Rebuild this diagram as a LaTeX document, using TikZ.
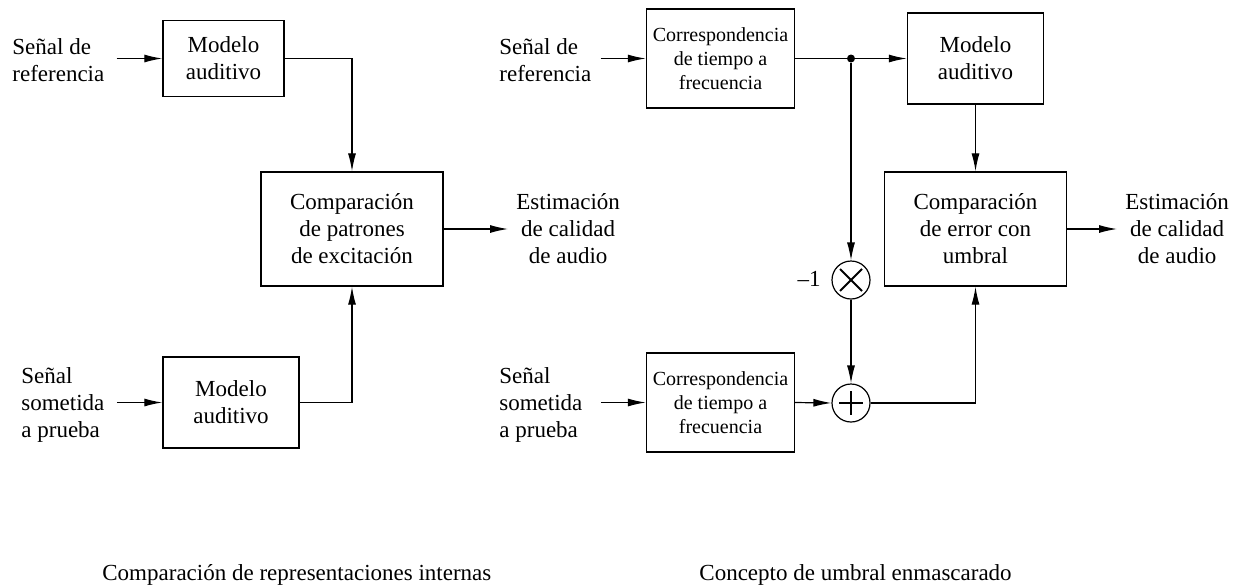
\documentclass[tikz,border=0pt]{standalone}
\usepackage{fontspec}
\setmainfont{Liberation Serif}
\usetikzlibrary{arrows.meta}
\begin{document}
\begin{tikzpicture}[x=0.5pt,y=-0.5pt,
  every node/.style={font=\fontsize{11.5}{13.5}\selectfont},
  blk/.style={draw, line width=0.7pt, inner sep=0pt, align=center},
  lbl/.style={inner sep=0pt, align=left, anchor=west},
  outl/.style={inner sep=0pt, align=center, anchor=west},
  arr/.style={line width=0.6pt, -{Latex[length=9pt,width=4pt]}},
  ln/.style={line width=0.6pt},
  small/.style={font=\fontsize{10}{12}\selectfont},
  sumc/.style={draw, circle, minimum size=19pt, inner sep=0pt, line width=0.6pt},
  sym/.style={line width=0.9pt}]
\useasboundingbox (0,0) rectangle (1236,585);

% ---- left diagram ----
\node[blk, minimum width=60.5pt, minimum height=38pt] (m1) at (223.5,58.5) {Modelo\\auditivo};
\node[blk, minimum width=91pt, minimum height=57pt] (c1) at (352,229) {Comparación\\de patrones\\de excitación};
\node[blk, minimum width=68pt, minimum height=45.5pt] (m2) at (231,402.5) {Modelo\\auditivo};
\node[lbl] (i1) at (12,60) {Señal de\\referencia};
\node[lbl] (i2) at (21,405) {Señal\\sometida\\a prueba};
\node[outl] (o1) at (516,229) {Estimación\\de calidad\\de audio};

\draw[arr, shorten <=6pt] (i1.east |- m1.west) -- (m1.west);
\draw[arr, shorten <=6pt] (i2.east |- m2.west) -- (m2.west);
\draw[arr] (m1.east) -| (c1.north);
\draw[arr] (m2.east) -| (c1.south);
\draw[arr, shorten >=4pt] (c1.east) -- (o1.west);

% ---- right diagram ----
\node[blk, small, minimum width=74pt, minimum height=49.5pt] (t1) at (720.5,58.5) {Correspondencia\\de tiempo a\\frecuencia};
\node[blk, small, minimum width=74pt, minimum height=49.5pt] (t2) at (720.5,402.5) {Correspondencia\\de tiempo a\\frecuencia};
\node[blk, minimum width=68pt, minimum height=45.5pt] (m3) at (975.5,58.5) {Modelo\\auditivo};
\node[blk, minimum width=91pt, minimum height=57pt] (c2) at (975.5,229) {Comparación\\de error con\\umbral};
\node[lbl] (i3) at (499,60) {Señal de\\referencia};
\node[lbl] (i4) at (499,405) {Señal\\sometida\\a prueba};
\node[outl] (o2) at (1125,229) {Estimación\\de calidad\\de audio};
\node[circle, fill, inner sep=0pt, minimum size=4pt] (dot) at (851,58.5) {};
\node[sumc] (mul) at (851,280) {};
\node[sumc] (add) at (851,403) {};
\node[inner sep=0pt, anchor=east] (neg) at (821,279) {--1};

\draw[sym] ([shift={(-11,-11)}]mul.center) -- ([shift={(11,11)}]mul.center);
\draw[sym] ([shift={(-11,11)}]mul.center) -- ([shift={(11,-11)}]mul.center);
\draw[sym] ([shift={(-12,0)}]add.center) -- ([shift={(12,0)}]add.center);
\draw[sym] ([shift={(0,-12)}]add.center) -- ([shift={(0,12)}]add.center);

\draw[arr, shorten <=4.5pt] (i3.east |- t1.west) -- (t1.west);
\draw[arr, shorten <=9pt] (i4.east |- t2.west) -- (t2.west);
\draw[ln] (t1.east) -- (dot);
\draw[arr] (dot) -- (m3.west);
\draw[arr] (dot) -- (mul.north);
\draw[arr] (mul.south) -- (add.north);
\draw[arr] (m3.south) -- (c2.north);
\draw[arr] (t2.east) -- (add.west);
\draw[arr] (add.east) -| (c2.south);
\draw[arr, shorten >=4pt] (c2.east) -- (o2.west);

% ---- captions ----
\node[anchor=base west, inner sep=0pt] (cap1) at (102,580) {Comparación de representaciones internas};
\node[anchor=base west, inner sep=0pt] (cap2) at (699,580) {Concepto de umbral enmascarado};
\end{tikzpicture}
\end{document}
